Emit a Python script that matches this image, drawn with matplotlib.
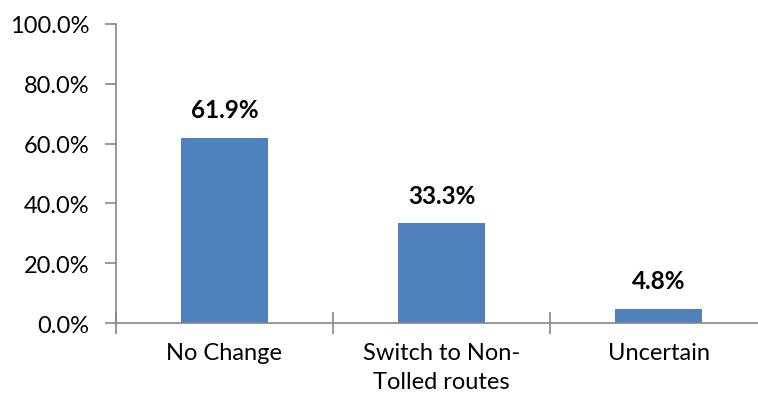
import matplotlib.pyplot as plt
from matplotlib.ticker import PercentFormatter

categories = ['No Change', 'Switch to Non-\nTolled routes', 'Uncertain']
values = [61.9, 33.3, 4.8]
bar_color = '#4F81BD'
axis_color = '#868686'

plt.rcParams['font.family'] = ['Lato', 'DejaVu Sans']

fig = plt.figure(figsize=(7.58, 4.02), dpi=100)
ax = fig.add_axes([0.153, 0.194, 0.859, 0.744])

x = range(len(categories))
bars = ax.bar(x, values, width=0.4, color=bar_color)

for bar, v in zip(bars, values):
    ax.annotate(f'{v:.1f}%', (bar.get_x() + bar.get_width() / 2, v),
                xytext=(0, 12), textcoords='offset points',
                ha='center', va='bottom', fontsize=17.5, fontweight='bold')

ax.set_xlim(-0.5, 2.5)
ax.set_ylim(0, 100)
ax.set_yticks([0, 20, 40, 60, 80, 100])
ax.yaxis.set_major_formatter(PercentFormatter(decimals=1))
ax.set_xticks([0, 1, 2])
ax.set_xticklabels(categories, linespacing=1.45)
ax.set_xticks([-0.5, 0.5, 1.5, 2.5], minor=True)

for side in ['top', 'right']:
    ax.spines[side].set_visible(False)
for side in ['left', 'bottom']:
    ax.spines[side].set_color(axis_color)
    ax.spines[side].set_linewidth(1.2)

ax.tick_params(axis='y', colors=axis_color, labelcolor='black', labelsize=17,
               length=8, width=1.2, pad=11)
ax.tick_params(axis='x', which='major', length=0, labelsize=17, pad=14)
ax.tick_params(axis='x', which='minor', colors=axis_color, direction='inout',
               length=16, width=1.2)

fig.savefig('out.png', dpi=100)
